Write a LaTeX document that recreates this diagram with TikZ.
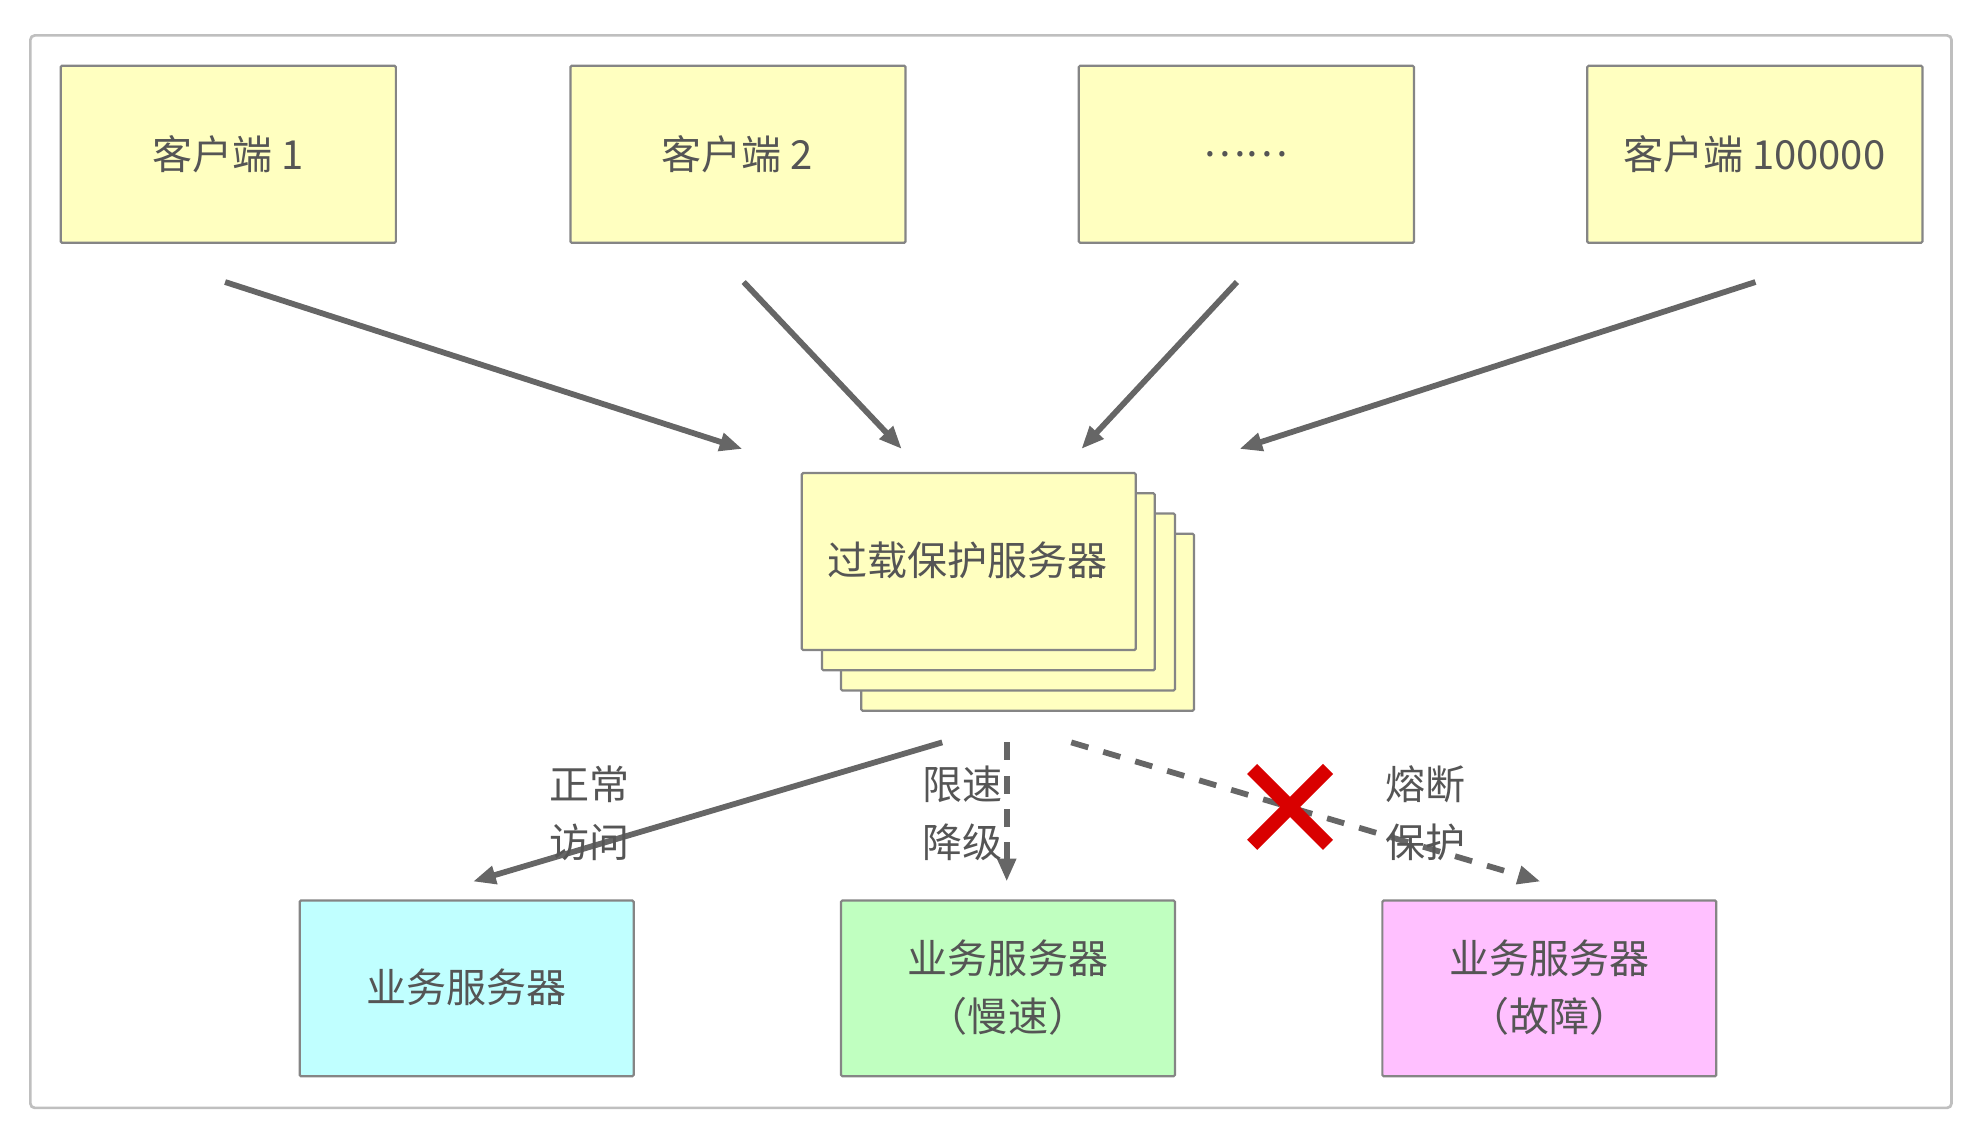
\documentclass[tikz,border=0pt]{standalone}
\usepackage{fontspec}
\newfontfamily\cjk{Noto Sans CJK SC}
\usetikzlibrary{arrows.meta}
\definecolor{tx}{HTML}{555555}
\definecolor{ln}{HTML}{666666}
\definecolor{yl}{HTML}{FFFFC0}
\definecolor{cy}{HTML}{C0FFFF}
\definecolor{gr}{HTML}{C0FFC0}
\definecolor{pk}{HTML}{FFC0FF}
\tikzset{
 box/.style={draw=ln!80, line width=0.5pt, rounded corners=0.3pt, text=tx, font=\cjk\fontsize{9}{13}\selectfont, align=center},
 arr/.style={draw=ln, line width=1.3pt, -{Triangle[length=0.18cm,width=0.14cm]}},
 lbl/.style={text=tx, font=\cjk\fontsize{9}{13}\selectfont, align=center}
}
\begin{document}
\begin{tikzpicture}[x=0.01cm,y=-0.01cm]
\useasboundingbox (0,0) rectangle (1560,901);
\draw[draw=black!25, line width=0.6pt, rounded corners=1pt] (24,28) rectangle (1543,876);
% clients
\foreach \n/\x/\t in {c1/48/客户端 1, c2/451/客户端 2, c3/853/……, c4/1255/客户端 100000}{
 \draw[box, fill=yl] (\x,52) rectangle ++(265,140);
 \node[lbl] (\n) at (\x+132,122) {\t};
}
% stack
\draw[box, fill=yl] (681,422) rectangle (944,562);
\draw[box, fill=yl] (665,406) rectangle (929,546);
\draw[box, fill=yl] (650,390) rectangle (913,530);
\draw[box, fill=yl] (634,374) rectangle (898,514);
\node[lbl] (ov) at (765,443) {过载保护服务器};
% coordinates for arrows
\coordinate (a1s) at (178,223); \coordinate (a1e) at (587,355);
\coordinate (a2s) at (588,223); \coordinate (a2e) at (713,355);
\coordinate (a3s) at (978,223); \coordinate (a3e) at (855,355);
\coordinate (a4s) at (1388,223); \coordinate (a4e) at (980,355);
\foreach \i in {1,...,4}{\draw[arr] (a\i s) -- (a\i e);}
% bottom
\draw[box, fill=cy] (237,712) rectangle (501,851);
\node[lbl] (b1) at (369,781) {业务服务器};
\draw[box, fill=gr] (665,712) rectangle (929,851);
\node[lbl] (b2) at (797,781) {业务服务器\\（慢速）};
\draw[box, fill=pk] (1093,712) rectangle (1357,851);
\node[lbl] (b3) at (1225,781) {业务服务器\\（故障）};
\coordinate (d1s) at (745,587); \coordinate (d1e) at (374,697);
\coordinate (d2s) at (796,587); \coordinate (d2e) at (796,697);
\coordinate (d3s) at (847,587); \coordinate (d3e) at (1218,697);
\draw[arr] (d1s) -- (d1e);
\draw[arr, dash pattern=on 4pt off 3.5pt] (d2s) -- (d2e);
\draw[arr, dash pattern=on 4pt off 3.5pt] (d3s) -- (d3e);
\node[lbl] (l1) at (466,643) {正常\\访问};
\node[lbl] (l2) at (761,643) {限速\\降级};
\node[lbl] (l3) at (1127,643) {熔断\\保护};
\draw[red!85!black, line width=3.2pt] (990,608) -- (1050,668) (1050,608) -- (990,668);
\end{tikzpicture}
\end{document}
